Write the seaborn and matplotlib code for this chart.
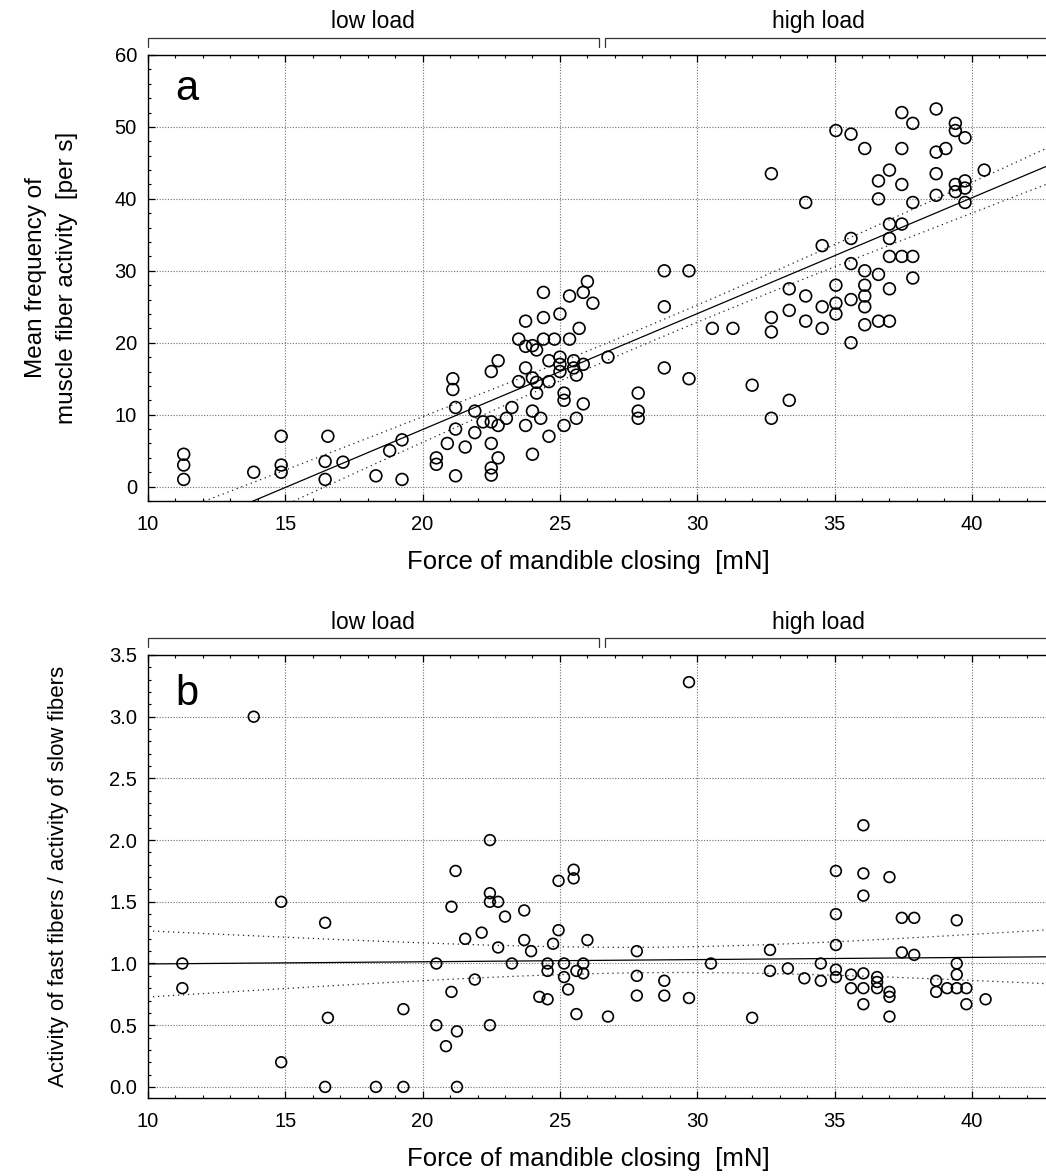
import numpy as np
import pandas as pd
import matplotlib
matplotlib.use("Agg")
import matplotlib.pyplot as plt
import matplotlib.transforms as mtransforms
from matplotlib.ticker import MultipleLocator, FormatStrFormatter
import seaborn as sns

# ---------------- data: panel a ----------------
force_a = [11.3, 11.3, 11.3, 13.85, 14.85, 14.85, 14.85, 16.55, 16.45, 16.45,
           17.1, 18.3, 18.8, 19.25, 19.25, 20.5, 20.5, 20.9, 21.1, 21.1,
           21.2, 21.2, 21.2, 21.55, 21.9, 21.9, 22.2, 22.5, 22.5, 22.5,
           22.5, 22.5, 22.75, 22.75, 22.75, 23.05, 23.25, 23.5, 23.5, 23.75,
           23.75, 23.75, 23.75, 24.0, 24.0, 24.0, 24.0, 24.15, 24.15, 24.15,
           24.3, 24.4, 24.4, 24.4, 24.6, 24.6, 24.6, 24.8, 25.0, 25.0,
           25.0, 25.0, 25.15, 25.15, 25.15, 25.35, 25.35, 25.5, 25.5, 25.6,
           25.6, 25.7, 25.85, 25.85, 25.85, 26.0, 26.2, 26.75, 27.85, 27.85,
           27.85, 28.8, 28.8, 28.8, 29.7, 29.7, 30.55, 31.3, 32.0, 32.7,
           32.7, 32.7, 32.7, 33.35, 33.35, 33.35, 33.95, 33.95, 33.95, 34.55,
           34.55, 34.55, 35.05, 35.05, 35.05, 35.05, 35.6, 35.6, 35.6, 35.6,
           35.6, 36.1, 36.1, 36.1, 36.1, 36.1, 36.1, 36.6, 36.6, 36.6,
           36.6, 37.0, 37.0, 37.0, 37.0, 37.0, 37.0, 37.45, 37.45, 37.45,
           37.45, 37.45, 37.85, 37.85, 37.85, 37.85, 38.7, 38.7, 38.7, 38.7,
           39.05, 39.4, 39.4, 39.4, 39.4, 39.75, 39.75, 39.75, 39.75, 40.45]
freq_a = [4.5, 3.0, 1.0, 2.0, 7.0, 3.0, 2.0, 7.0, 3.5, 1.0,
          3.4, 1.5, 5.0, 6.5, 1.0, 4.0, 3.1, 6.0, 15.0, 13.5,
          11.0, 8.0, 1.5, 5.5, 10.5, 7.5, 9.0, 16.0, 9.0, 6.0,
          2.6, 1.6, 17.5, 8.5, 4.0, 9.5, 11.0, 20.5, 14.6, 23.0,
          19.5, 16.5, 8.5, 19.6, 15.1, 10.5, 4.5, 19.0, 14.5, 13.0,
          9.5, 27.0, 23.5, 20.5, 17.5, 14.6, 7.0, 20.5, 24.0, 18.0,
          17.0, 16.0, 13.0, 12.0, 8.5, 26.5, 20.5, 17.5, 16.5, 15.5,
          9.5, 22.0, 27.0, 17.0, 11.5, 28.5, 25.5, 18.0, 13.0, 10.5,
          9.5, 30.0, 25.0, 16.5, 30.0, 15.0, 22.0, 22.0, 14.1, 43.5,
          23.5, 21.5, 9.5, 27.5, 24.5, 12.0, 39.5, 26.5, 23.0, 33.5,
          25.0, 22.0, 49.5, 28.0, 25.5, 24.0, 49.0, 34.5, 31.0, 26.0,
          20.0, 47.0, 30.0, 28.0, 26.5, 25.0, 22.5, 42.5, 40.0, 29.5,
          23.0, 44.0, 36.5, 34.5, 32.0, 27.5, 23.0, 52.0, 47.0, 42.0,
          36.5, 32.0, 50.5, 39.5, 32.0, 29.0, 52.5, 46.5, 43.5, 40.5,
          47.0, 50.5, 49.5, 42.0, 41.0, 48.5, 42.5, 41.5, 39.5, 44.0]

# ---------------- data: panel b ----------------
force_b = [11.25, 11.25, 13.85, 14.85, 14.85, 16.45, 16.55, 16.45, 18.3, 19.3,
           19.3, 20.5, 20.5, 20.85, 21.05, 21.05, 21.2, 21.25, 21.25, 21.55,
           21.9, 22.15, 22.45, 22.45, 22.45, 22.45, 22.75, 22.75, 23.0, 23.25,
           23.7, 23.7, 23.95, 24.25, 24.55, 24.55, 24.55, 24.75, 24.95, 24.95,
           25.15, 25.15, 25.3, 25.5, 25.5, 25.6, 25.6, 25.85, 25.85, 26.0,
           26.75, 27.8, 27.8, 27.8, 28.8, 28.8, 29.7, 29.7, 30.5, 32.0,
           32.65, 32.65, 33.3, 33.9, 34.5, 34.5, 35.05, 35.05, 35.05, 35.05,
           35.05, 35.6, 35.6, 36.05, 36.05, 36.05, 36.05, 36.05, 36.05, 36.55,
           36.55, 36.55, 37.0, 37.0, 37.0, 37.0, 37.45, 37.45, 37.9, 37.9,
           38.7, 38.7, 39.1, 39.45, 39.45, 39.45, 39.45, 39.8, 39.8, 40.5]
ratio_b = [1.0, 0.8, 3.0, 1.5, 0.2, 1.33, 0.56, 0.0, 0.0, 0.63,
           0.0, 1.0, 0.5, 0.33, 1.46, 0.77, 1.75, 0.45, 0.0, 1.2,
           0.87, 1.25, 2.0, 1.57, 1.5, 0.5, 1.5, 1.13, 1.38, 1.0,
           1.43, 1.19, 1.1, 0.73, 1.0, 0.94, 0.71, 1.16, 1.67, 1.27,
           1.0, 0.89, 0.79, 1.76, 1.69, 0.94, 0.59, 1.0, 0.92, 1.19,
           0.57, 1.1, 0.9, 0.74, 0.86, 0.74, 3.28, 0.72, 1.0, 0.56,
           1.11, 0.94, 0.96, 0.88, 1.0, 0.86, 1.75, 1.4, 1.15, 0.95,
           0.89, 0.91, 0.8, 2.12, 1.73, 1.55, 0.92, 0.8, 0.67, 0.89,
           0.85, 0.8, 1.7, 0.77, 0.73, 0.57, 1.37, 1.09, 1.37, 1.07,
           0.86, 0.77, 0.8, 1.35, 1.0, 0.91, 0.8, 0.8, 0.67, 0.71]

load_groups = ["low load", "high load"]
xlabel = "Force of mandible closing  [mN]"
ylabel_a = "Mean frequency of\nmuscle fiber activity  [per s]"
ylabel_b = "Activity of fast fibers / activity of slow fibers"

df_a = pd.DataFrame({"force": force_a, "value": freq_a})
df_b = pd.DataFrame({"force": force_b, "value": ratio_b})

# ---------------- style ----------------
sns.set_style("white")
plt.rcParams["font.family"] = ["Liberation Sans", "DejaVu Sans"]
for key in ["text.color", "axes.labelcolor", "xtick.color", "ytick.color",
            "axes.edgecolor"]:
    plt.rcParams[key] = "black"

W, H = 1046, 1176
fig = plt.figure(figsize=(W / 100, H / 100), dpi=100)
ax_a = fig.add_axes([148 / W, 1 - 501 / H, 1 - 148 / W, 446 / H])
ax_b = fig.add_axes([148 / W, 1 - 1098 / H, 1 - 148 / W, 443 / H])

XMIN, XMAX = 10, 42.7
SPLIT_LO, SPLIT_HI = 26.42, 26.63


def fit_ci(x, y, xs):
    x = np.asarray(x, float)
    y = np.asarray(y, float)
    n = len(x)
    b, a = np.polyfit(x, y, 1)
    resid = y - (a + b * x)
    s = np.sqrt(np.sum(resid ** 2) / (n - 2))
    xm = x.mean()
    sxx = np.sum((x - xm) ** 2)
    t = 1.96 + 2.4 / (n - 2)
    yh = a + b * xs
    se = s * np.sqrt(1.0 / n + (xs - xm) ** 2 / sxx)
    return yh, yh - t * se, yh + t * se


def draw_panel(ax, df, ylim, ymaj, ymin, msize, letter, letter_y):
    sns.scatterplot(data=df, x="force", y="value", ax=ax, marker="o",
                    s=msize, facecolor="none", edgecolor="black",
                    linewidth=1.2, zorder=4, legend=False)
    for coll in ax.collections:
        coll.set_facecolor("none")
    xs = np.linspace(XMIN, XMAX, 300)
    yh, lo, hi = fit_ci(df["force"], df["value"], xs)
    ax.plot(xs, yh, color="black", lw=0.9, zorder=3)
    ax.plot(xs, lo, color="#222222", lw=0.9, ls=(0, (1, 3)), zorder=3)
    ax.plot(xs, hi, color="#222222", lw=0.9, ls=(0, (1, 3)), zorder=3)

    ax.set_xlim(XMIN, XMAX)
    ax.set_ylim(*ylim)
    ax.xaxis.set_major_locator(MultipleLocator(5))
    ax.xaxis.set_minor_locator(MultipleLocator(1))
    ax.yaxis.set_major_locator(MultipleLocator(ymaj))
    ax.yaxis.set_minor_locator(MultipleLocator(ymin))
    ax.grid(True, which="major", color="#707070", lw=0.8, ls=(0, (1, 1.5)))
    ax.set_axisbelow(True)
    ax.tick_params(which="both", direction="in", top=True, right=False,
                   bottom=True, left=True, labelsize=14.5, color="black")
    ax.tick_params(which="major", length=5, width=0.9, pad=8)
    ax.tick_params(which="minor", length=2.5, width=0.8)
    ax.tick_params(axis="x", which="major", pad=10)
    for side in ["left", "bottom", "top"]:
        ax.spines[side].set_color("black")
        ax.spines[side].set_linewidth(1.0)
    ax.spines["right"].set_visible(False)

    ax.set_xlabel(xlabel, fontsize=18.5)
    ax.xaxis.set_label_coords(0.49, -0.11)

    ax.text(0.030, letter_y, letter, transform=ax.transAxes, fontsize=30,
            va="baseline", ha="left")

    # load brackets above the panel
    tr = mtransforms.blended_transform_factory(ax.transData, ax.transAxes)
    yb, yt = 1.018, 1.038
    segs = [(XMIN, SPLIT_LO), (SPLIT_HI, XMAX + 1)]
    for (x0, x1), lab in zip(segs, load_groups):
        ax.plot([x0, x0, x1], [yb, yt, yt], color="#333333", lw=0.9,
                transform=tr, clip_on=False)
        if x1 <= XMAX:
            ax.plot([x1, x1], [yt, yb], color="#333333", lw=0.9,
                    transform=tr, clip_on=False)
    ax.text(18.2, 1.074, load_groups[0], transform=tr, ha="center",
            va="center", fontsize=16.5)
    ax.text(34.4, 1.074, load_groups[1], transform=tr, ha="center",
            va="center", fontsize=16.5)


draw_panel(ax_a, df_a, (-2, 60), 10, 2, 72, "a", 0.899)
draw_panel(ax_b, df_b, (-0.09, 3.5), 0.5, 0.1, 60, "b", 0.887)
ax_b.yaxis.set_major_formatter(FormatStrFormatter("%.1f"))

ax_a.set_ylabel(ylabel_a, fontsize=17.5, linespacing=1.55)
ax_a.yaxis.set_label_coords(-0.078, 0.5)
ax_b.set_ylabel(ylabel_b, fontsize=16)
ax_b.yaxis.set_label_coords(-0.088, 0.5)

fig.savefig("out.png", dpi=100)
